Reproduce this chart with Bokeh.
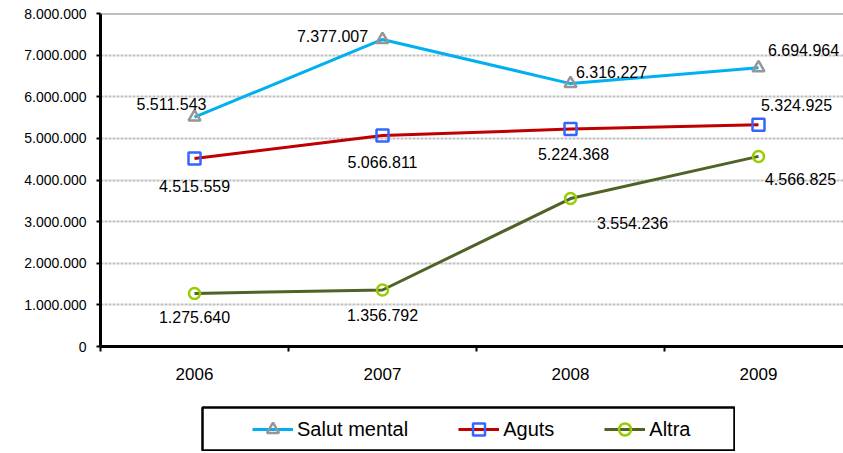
from bokeh.plotting import figure
from bokeh.models import (ColumnDataSource, FixedTicker, Span, Legend, LegendItem,
                          Range1d, Spacer)
from bokeh.layouts import column, row
from bokeh.embed import file_html
from bokeh.resources import INLINE
from bokeh.core.properties import value

# ---------------- data ----------------
years = ["2006", "2007", "2008", "2009"]
salut_mental = [5511543, 7377007, 6316227, 6694964]
aguts = [4515559, 5066811, 5224368, 5324925]
altra = [1275640, 1356792, 3554236, 4566825]
y_ticks = [0, 1000000, 2000000, 3000000, 4000000, 5000000, 6000000, 7000000, 8000000]
y_tick_labels = ["0", "1.000.000", "2.000.000", "3.000.000", "4.000.000",
                 "5.000.000", "6.000.000", "7.000.000", "8.000.000"]
series_names = ["Salut mental", "Aguts", "Altra"]

# ---------------- styles ----------------
FONT = "Liberation Sans"
styles = [
    dict(line="#00B0F0", marker="triangle", mcolor="#969696", size=12,
         dx=[-23, -50, 41, 45], dy=[-13, -3, -12, -18]),
    dict(line="#C00000", marker="square", mcolor="#3366FF", size=12,
         dx=[0, 0, 3, 38], dy=[27, 26, 25, -20]),
    dict(line="#4F6228", marker="circle", mcolor="#99CC00", size=11,
         dx=[0, 0, 62, 42], dy=[24, 25, 24, 23]),
]
values = [salut_mental, aguts, altra]

xs = [i + 1 for i in range(len(years))]
boundaries = [i + 0.5 for i in range(len(years) + 1)]


def fmt(v):
    return f"{v:,}".replace(",", ".")


p = figure(width=843, height=406,
           x_range=Range1d(0.5, 0.5 + 743 / 188), y_range=Range1d(0, y_ticks[-1]),
           output_backend="svg", toolbar_location=None,
           min_border_left=100, min_border_right=0, min_border_top=13, min_border_bottom=60)
p.outline_line_color = None
p.background_fill_color = "white"
p.xgrid.visible = False
p.ygrid.ticker = FixedTicker(ticks=y_ticks)
p.ygrid.grid_line_color = "#C0C0C0"
p.ygrid.grid_line_width = 2
p.ygrid.grid_line_dash = "3 1"

p.add_layout(Span(location=y_ticks[-1], dimension="width", line_color="#808080", line_width=2))

# y axis
p.yaxis.ticker = FixedTicker(ticks=y_ticks)
p.yaxis.major_label_overrides = {t: l for t, l in zip(y_ticks, y_tick_labels)}
p.yaxis.axis_line_width = 3
p.yaxis.axis_line_color = "black"
p.yaxis.major_tick_out = 4
p.yaxis.major_tick_in = 0
p.yaxis.major_tick_line_width = 2
p.yaxis.minor_tick_line_color = None
p.yaxis.major_label_text_font = FONT
p.yaxis.major_label_text_font_size = "14px"
p.yaxis.major_label_text_color = "black"
p.yaxis.major_label_standoff = 10

# x axis
p.xaxis.ticker = FixedTicker(ticks=xs, minor_ticks=boundaries)
p.xaxis.major_label_overrides = {x: y for x, y in zip(xs, years)}
p.xaxis.axis_line_width = 3
p.xaxis.axis_line_color = "black"
p.xaxis.major_tick_line_color = None
p.xaxis.major_tick_out = 0
p.xaxis.major_tick_in = 0
p.xaxis.minor_tick_out = 5
p.xaxis.minor_tick_in = 0
p.xaxis.minor_tick_line_width = 2
p.xaxis.minor_tick_line_color = "black"
p.xaxis.major_label_text_font = FONT
p.xaxis.major_label_text_font_size = "17px"
p.xaxis.major_label_text_color = "black"
p.xaxis.major_label_standoff = 16

for vals, st in zip(values, styles):
    src = ColumnDataSource(dict(x=xs, y=vals, t=[fmt(v) for v in vals], dx=st["dx"], dy=st["dy"]))
    p.line("x", "y", source=src, line_color=st["line"], line_width=3)
    p.scatter("x", "y", source=src, marker=st["marker"], size=st["size"],
              line_color=st["mcolor"], line_width=2.5, fill_color=None)
    p.text("x", "y", text="t", x_offset="dx", y_offset="dy", source=src,
           text_align="center", text_baseline="middle",
           text_font=value(FONT), text_font_size="16px", text_color="black")

# ---------------- legend box ----------------
p2 = figure(width=534, height=45, x_range=Range1d(0, 1), y_range=Range1d(0, 1),
            output_backend="svg", toolbar_location=None,
            x_axis_location=None, y_axis_location=None,
            min_border_left=1, min_border_right=1, min_border_top=1, min_border_bottom=1)
p2.grid.visible = False
p2.outline_line_color = "black"
p2.outline_line_width = 2.5
nan = float("nan")
items = []
for name, st in zip(series_names, styles):
    lr = p2.line(x=[nan, nan], y=[nan, nan], line_color=st["line"], line_width=3)
    sr = p2.scatter(x=[nan], y=[nan], marker=st["marker"], line_color=st["mcolor"],
                    line_width=2.5, fill_color=None)
    items.append(LegendItem(label=name, renderers=[lr, sr]))
legend = Legend(items=items, orientation="horizontal", location=(50, 6),
                border_line_color=None, background_fill_alpha=0, padding=0, margin=0,
                spacing=50, glyph_width=41, glyph_height=30, label_height=20,
                label_standoff=4, label_text_font=FONT, label_text_font_size="20px",
                label_text_color="black")
p2.add_layout(legend)

layout = column(p, row(Spacer(width=201, height=45), p2))
open("out.html", "w").write(file_html(layout, INLINE))
